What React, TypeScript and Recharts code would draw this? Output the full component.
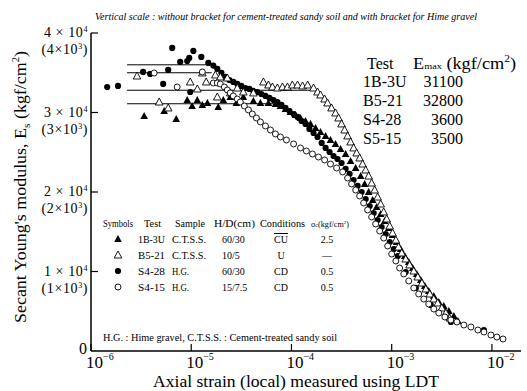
import React from 'react';
import { ComposedChart, Scatter, XAxis, YAxis, ReferenceLine } from 'recharts';

const SERIF = '"Liberation Serif", "DejaVu Serif", serif';

// S4-28 (Hime gravel, 60/30, CD) — filled circles
const s428Strain = [1.45e-6, 1.86e-6, 3.31e-6, 3.89e-6, 5.25e-6, 5.89e-6, 6.46e-6, 7.76e-6, 9.12e-6, 9.55e-6, 9.77e-6, 1.05e-5, 1.26e-5, 1.48e-5,
  1.66e-5, 1.82e-5, 2.0e-5, 2.19e-5, 2.4e-5, 2.63e-5, 2.88e-5, 3.16e-5, 3.47e-5, 3.8e-5, 4.17e-5, 4.57e-5, 5.01e-5, 5.5e-5, 6.03e-5, 6.61e-5,
  7.24e-5, 7.94e-5, 8.71e-5, 9.55e-5, 1.05e-4, 1.15e-4, 1.26e-4, 1.38e-4, 1.51e-4, 1.66e-4, 1.82e-4, 2.0e-4, 2.19e-4, 2.4e-4, 2.63e-4, 2.88e-4,
  3.16e-4, 3.47e-4, 3.8e-4, 4.17e-4, 4.57e-4, 5.01e-4, 5.5e-4, 6.03e-4, 6.61e-4, 7.24e-4, 7.94e-4, 8.71e-4, 9.55e-4, 1.05e-3, 1.15e-3,
  1.38e-3, 1.74e-3, 2.45e-3, 3.89e-3, 8.32e-3];
const s428E = [33210, 33340, 35100, 34850, 33590, 35350, 38120, 36360, 36480, 36860, 32580, 37740, 36990, 36230,
  35900, 35500, 35000, 34470, 34090, 33840, 33590, 33340, 33080, 32960, 32710, 32580, 32330, 32080, 31830, 31570,
  31320, 30950, 30570, 30190, 29810, 29440, 28930, 28560, 27930, 27420, 26920, 26170, 25540, 25030, 24530, 24150,
  23650, 22900, 22270, 21510, 20760, 20000, 19120, 18240, 17360, 16480, 15600, 14720, 13710, 12830, 11950,
  9940, 7930, 5790, 3650, 2640];

// 1B-3U (C.T.S.S., 60/30, CU) — filled triangles
const t1bStrain = [3.39e-6, 5.37e-6, 7.08e-6, 9.12e-6, 1.02e-5, 1.15e-5, 1.29e-5, 1.45e-5, 1.86e-5, 2.09e-5, 2.45e-5, 2.82e-5, 3.31e-5, 4.17e-5, 4.9e-5, 5.89e-5, 6.92e-5,
  7.76e-5, 8.71e-5, 9.77e-5, 1.1e-4, 1.23e-4, 1.38e-4, 1.55e-4, 1.74e-4, 1.95e-4, 2.19e-4, 2.45e-4, 2.75e-4, 3.09e-4, 3.47e-4, 3.89e-4,
  4.37e-4, 4.9e-4, 5.37e-4, 5.89e-4, 6.46e-4, 7.08e-4, 7.76e-4, 8.51e-4, 9.33e-4, 1.02e-3, 1.12e-3, 1.23e-3, 1.35e-3, 1.48e-3, 1.62e-3,
  1.78e-3, 1.95e-3, 2.14e-3, 2.34e-3, 2.63e-3, 2.95e-3, 3.31e-3, 3.72e-3, 4.17e-3, 4.57e-3];
const t1bE = [29560, 30190, 29180, 31570, 30820, 31570, 30950, 31200, 30690, 31570, 31950, 31200, 31950, 31450, 31200, 31200, 31070,
  30820, 30440, 30070, 29690, 29310, 28930, 28560, 28050, 27550, 27050, 26540, 26040, 25410, 24780, 23900,
  23020, 22010, 21010, 20000, 18990, 18110, 17230, 16350, 15470, 14590, 13710, 12830, 11950, 11200, 10440,
  9690, 8930, 8180, 7550, 6920, 6160, 5660, 5030, 4400, 3770];

// B5-21 (C.T.S.S., 10/5, U) — open triangles
const b521Strain = [2.88e-6, 4.79e-6, 5.89e-6, 9.77e-6, 1.15e-5, 1.29e-5, 1.41e-5, 1.74e-5, 1.82e-5, 1.95e-5, 2.29e-5, 2.45e-5, 2.88e-5, 3.31e-5, 4.17e-5,
  5.25e-5, 5.89e-5, 6.46e-5, 7.24e-5, 8.13e-5, 9.12e-5, 1.02e-4, 1.15e-4, 1.29e-4, 1.45e-4, 1.66e-4, 1.82e-4, 1.95e-4, 2.14e-4, 2.29e-4,
  2.51e-4, 2.75e-4, 2.95e-4, 3.16e-4, 3.39e-4, 3.63e-4, 3.89e-4, 4.17e-4, 4.47e-4, 4.79e-4, 5.13e-4, 5.5e-4, 5.89e-4, 6.31e-4, 6.76e-4,
  7.24e-4, 7.76e-4, 8.32e-4, 8.91e-4, 9.55e-4, 1.02e-3, 1.1e-3, 1.17e-3, 1.26e-3, 1.38e-3, 1.51e-3, 1.66e-3, 1.82e-3, 2.0e-3, 2.19e-3,
  2.4e-3, 2.63e-3, 2.88e-3, 3.16e-3, 3.47e-3, 3.8e-3];
const b521E = [34590, 31320, 30570, 33840, 32960, 34970, 33840, 34720, 31950, 34470, 34340, 32460, 33080, 32580, 32460,
  33840, 33460, 33210, 33080, 33210, 33210, 33460, 33460, 33340, 33460, 33080, 32580, 32200, 31700, 31200,
  30570, 29940, 29310, 28560, 27800, 27050, 26290, 25540, 24910, 24280, 23520, 22770, 22010, 21130, 20250,
  19370, 18490, 17490, 16610, 15720, 14840, 13960, 13080, 12330, 11570, 10820, 10060, 9310, 8550, 7800,
  7170, 6540, 6040, 5410, 4780, 4150];

// S5-15 (Hime gravel, 15/7.5, CD) — open circles
const s515Strain = [4.27e-6, 7.24e-6, 1.29e-5, 1.66e-5, 1.82e-5, 1.95e-5, 2.14e-5, 2.29e-5, 2.45e-5, 2.63e-5, 2.88e-5, 3.09e-5, 3.39e-5, 3.72e-5,
  4.07e-5, 4.47e-5, 4.9e-5, 5.5e-5, 6.17e-5, 6.92e-5, 7.76e-5, 8.91e-5, 1.05e-4, 1.23e-4, 1.41e-4, 1.62e-4, 1.86e-4, 2.14e-4, 2.45e-4,
  2.82e-4, 3.24e-4, 3.63e-4, 3.98e-4, 4.37e-4, 4.79e-4, 5.25e-4, 5.75e-4, 6.31e-4, 6.92e-4, 7.59e-4, 8.32e-4, 9.12e-4, 1.0e-3, 1.1e-3,
  1.2e-3, 1.32e-3, 1.48e-3, 1.66e-3, 1.86e-3, 2.09e-3, 2.34e-3, 2.63e-3, 2.95e-3, 3.39e-3, 3.89e-3, 4.47e-3, 5.25e-3, 6.17e-3, 7.24e-3,
  8.32e-3, 9.77e-3, 1.12e-2, 1.29e-2];
const s515E = [34970, 33210, 35100, 33710, 33710, 33590, 33210, 32830, 32460, 32080, 31700, 31320, 30820, 30320,
  29810, 29310, 28810, 28300, 27800, 27300, 26920, 26540, 26040, 25540, 25160, 24780, 24400, 24030, 23520,
  23020, 22520, 21760, 21010, 20250, 19500, 18620, 17740, 16860, 15980, 15090, 14210, 13210, 12200, 11320,
  10440, 9690, 8810, 7930, 7170, 6540, 5910, 5280, 4780, 4280, 3900, 3650, 3270, 3020, 2640,
  2390, 2010, 1760, 1510];

// Emax reference lines (vertical scale values) and their extents
const emaxLineE = [31100, 32800, 36000, 35000];
const emaxLineStart = [2.29e-6, 2.29e-6, 2.29e-6, 2.29e-6];
const emaxLineEnd = [7.0e-5, 1.6e-4, 1.4e-5, 1.6e-5];

// Emax table
const emaxTests = ['1B-3U', 'B5-21', 'S4-28', 'S5-15'];
const emaxValues = ['31100', '32800', '3600', '3500'];

// Legend table
const legSymbols = ['ftri', 'otri', 'fcir', 'ocir'];
const legTests = ['1B-3U', 'B5-21', 'S4-28', 'S4-15'];
const legSamples = ['C.T.S.S.', 'C.T.S.S.', 'H.G.', 'H.G.'];
const legHD = ['60/30', '10/5', '60/30', '15/7.5'];
const legCond = ['CU', 'U', 'CD', 'CD'];
const legSigma = ['2.5', '—', '0.5', '0.5'];

// Axis ticks
const xTicks = [1e-6, 1e-5, 1e-4, 1e-3, 1e-2];
const xTickExp = ['−6', '−5', '−4', '−3', '−2'];
const yTicks = [0, 10000, 20000, 30000, 40000];
const yTickCoef = ['0', '1', '2', '3', '4'];

const mk = (xs: number[], ys: number[]) => xs.map((x, i) => ({ x, y: ys[i] }));
const s428Data = mk(s428Strain, s428E);
const t1bData = mk(t1bStrain, t1bE);
const b521Data = mk(b521Strain, b521E);
const s515Data = mk(s515Strain, s515E);

const triPts = (cx: number, cy: number, r: number) =>
  `${cx},${cy - r} ${cx - r * 0.95},${cy + r * 0.75} ${cx + r * 0.95},${cy + r * 0.75}`;

const FilledCircle = (p: any) => <circle cx={p.cx} cy={p.cy} r={3.1} fill="#000" />;
const OpenCircle = (p: any) => <circle cx={p.cx} cy={p.cy} r={3} fill="#fff" stroke="#000" strokeWidth={0.9} />;
const FilledTri = (p: any) => <polygon points={triPts(p.cx, p.cy, 4)} fill="#000" />;
const OpenTri = (p: any) => <polygon points={triPts(p.cx, p.cy, 4)} fill="#fff" stroke="#000" strokeWidth={0.9} />;

const XTick = (props: any) => {
  const { x, y, payload } = props;
  let i = xTicks.indexOf(payload.value);
  if (i < 0) i = Math.round(Math.log10(payload.value)) + 6;
  return (
    <g>
      <line x1={x} x2={x} y1={y} y2={y - 7} stroke="#000" strokeWidth={1.2} />
      <text x={x - 5} y={y + 17} fontFamily={SERIF} fontSize={17} fill="#000">
        10<tspan dy={-8} fontSize={10}>{xTickExp[i]}</tspan>
      </text>
    </g>
  );
};

const YTick = (props: any) => {
  const { x, y, payload } = props;
  const i = yTicks.indexOf(payload.value);
  const c = yTickCoef[i];
  if (c === '0') {
    return (
      <text x={x - 4} y={y + 3} textAnchor="end" fontFamily={SERIF} fontSize={16} fill="#000">0</text>
    );
  }
  const tx = x - 3;
  return (
    <g>
      <line x1={x} x2={x + 7} y1={y} y2={y} stroke="#000" strokeWidth={1.2} />
      <text x={tx} y={y + 4} textAnchor="end" fontFamily={SERIF} fontSize={14} fill="#000" letterSpacing={0.6}>
        {c} × 10<tspan dy={-5} fontSize={8}>4</tspan>
      </text>
      <text x={tx} y={y + 21} textAnchor="end" fontFamily={SERIF} fontSize={14} fill="#000" letterSpacing={0.6}>
        ({c}×10<tspan dy={-5} fontSize={8}>3</tspan><tspan dy={5}>)</tspan>
      </text>
    </g>
  );
};

const T = ({ x, y, w, size = 10, anchor = 'start', children, italic, style }: any) => (
  <text
    x={x}
    y={y}
    fontFamily={SERIF}
    fontSize={size}
    fontStyle={italic ? 'italic' : 'normal'}
    textAnchor={anchor}
    fill="#000"
    textLength={w}
    lengthAdjust={w ? 'spacingAndGlyphs' : undefined}
    style={style}
  >
    {children}
  </text>
);

const legendSymbol = (kind: string, cx: number, cy: number) => {
  if (kind === 'ftri') return <FilledTri cx={cx} cy={cy} />;
  if (kind === 'otri') return <OpenTri cx={cx} cy={cy} />;
  if (kind === 'fcir') return <FilledCircle cx={cx} cy={cy} />;
  return <OpenCircle cx={cx} cy={cy} />;
};

const rowY = [243, 259, 275, 291];
const emaxRowY = [87, 106, 125, 144];

export default function App() {
  return (
    <div style={{ position: 'absolute', left: 0, top: 0, width: 527, height: 391, background: '#fff' }}>
      <ComposedChart width={527} height={391} margin={{ top: 33, right: 6, bottom: 0, left: 0 }}>
        <XAxis
          dataKey="x"
          type="number"
          scale="log"
          domain={[1e-6, 1.95e-2]}
          allowDataOverflow
          ticks={xTicks}
          tick={<XTick />}
          tickLine={false}
          tickSize={0}
          tickMargin={0}
          height={40}
          axisLine={{ stroke: '#000', strokeWidth: 1.5 }}
          interval={0}
        />
        <YAxis
          dataKey="y"
          type="number"
          domain={[0, 40000]}
          ticks={yTicks}
          tick={<YTick />}
          tickLine={false}
          tickSize={0}
          tickMargin={0}
          width={91}
          axisLine={{ stroke: '#000', strokeWidth: 1.5 }}
          interval={0}
        />
        {emaxLineE.map((e, i) => (
          <ReferenceLine
            key={'l' + i}
            segment={[{ x: emaxLineStart[i], y: e }, { x: emaxLineEnd[i], y: e }]}
            stroke="#000"
            strokeWidth={1}
            ifOverflow="visible"
          />
        ))}
        <Scatter data={s428Data} dataKey="y" shape={FilledCircle} isAnimationActive={false} />
        <Scatter data={t1bData} dataKey="y" shape={FilledTri} isAnimationActive={false} />
        <Scatter data={b521Data} dataKey="y" shape={OpenTri} isAnimationActive={false} />
        <Scatter data={s515Data} dataKey="y" shape={OpenCircle} isAnimationActive={false} />
      </ComposedChart>
      <svg width={527} height={391} style={{ position: 'absolute', left: 0, top: 0, pointerEvents: 'none' }}>
        {/* title */}
        <T x={95} y={20} w={382} size={10} italic>
          Vertical scale : without bracket for cement-treated sandy soil and with bracket for Hime gravel
        </T>
        {/* y-axis label */}
        <text
          transform="translate(26,187) rotate(-90)"
          textAnchor="middle"
          fontFamily={SERIF}
          fontSize={17}
          fill="#000"
          textLength={272}
          lengthAdjust="spacingAndGlyphs"
        >
          Secant Young's modulus, E<tspan dy={4} fontSize={11}>s</tspan>
          <tspan dy={-4}> (kgf/cm</tspan><tspan dy={-7} fontSize={10}>2</tspan><tspan dy={7}>)</tspan>
        </text>
        {/* x-axis label */}
        <T x={296} y={387} w={286} size={17} anchor="middle">Axial strain (local) measured using LDT</T>
        {/* Emax table */}
        <T x={367} y={69} size={16}>Test</T>
        <text x={413} y={69} fontFamily={SERIF} fontSize={16} fill="#000" textLength={103} lengthAdjust="spacingAndGlyphs">
          E<tspan fontSize={9}>max</tspan> (kgf/cm<tspan dy={-7} fontSize={10}>2</tspan><tspan dy={7}>)</tspan>
        </text>
        {emaxTests.map((t, i) => (
          <g key={'e' + i}>
            <T x={363} y={emaxRowY[i]} size={16}>{t}</T>
            <T x={463} y={emaxRowY[i]} size={16} anchor="end">{emaxValues[i]}</T>
          </g>
        ))}
        {/* legend table */}
        <T x={103} y={227} w={30}>Symbols</T>
        <T x={144} y={227} w={17}>Test</T>
        <T x={175} y={227} w={30}>Sample</T>
        <T x={214} y={227} w={41}>H/D(cm)</T>
        <T x={260} y={227} w={45}>Conditions</T>
        <text x={311} y={227} fontFamily={SERIF} fontSize={8} fill="#000" textLength={38} lengthAdjust="spacingAndGlyphs">
          σ<tspan fontSize={6}>c</tspan>(kgf/cm<tspan dy={-3} fontSize={5}>2</tspan><tspan dy={3}>)</tspan>
        </text>
        {legTests.map((t, i) => (
          <g key={'r' + i}>
            {legendSymbol(legSymbols[i], 118, rowY[i] - 4)}
            <T x={138} y={rowY[i]} w={27}>{t}</T>
            <T x={172} y={rowY[i]} w={legSamples[i].length > 4 ? 34 : 17}>{legSamples[i]}</T>
            <T x={222} y={rowY[i]}>{legHD[i]}</T>
            <T
              x={281}
              y={rowY[i]}
              anchor="middle"
              style={legCond[i] === 'CU' ? { textDecoration: 'overline' } : undefined}
            >
              {legCond[i]}
            </T>
            <T x={327} y={rowY[i]} anchor="middle">{legSigma[i]}</T>
          </g>
        ))}
        {/* footnote */}
        <T x={103} y={341} w={234} size={10.5}>H.G. : Hime gravel, C.T.S.S. : Cement-treated sandy soil</T>
      </svg>
    </div>
  );
}
